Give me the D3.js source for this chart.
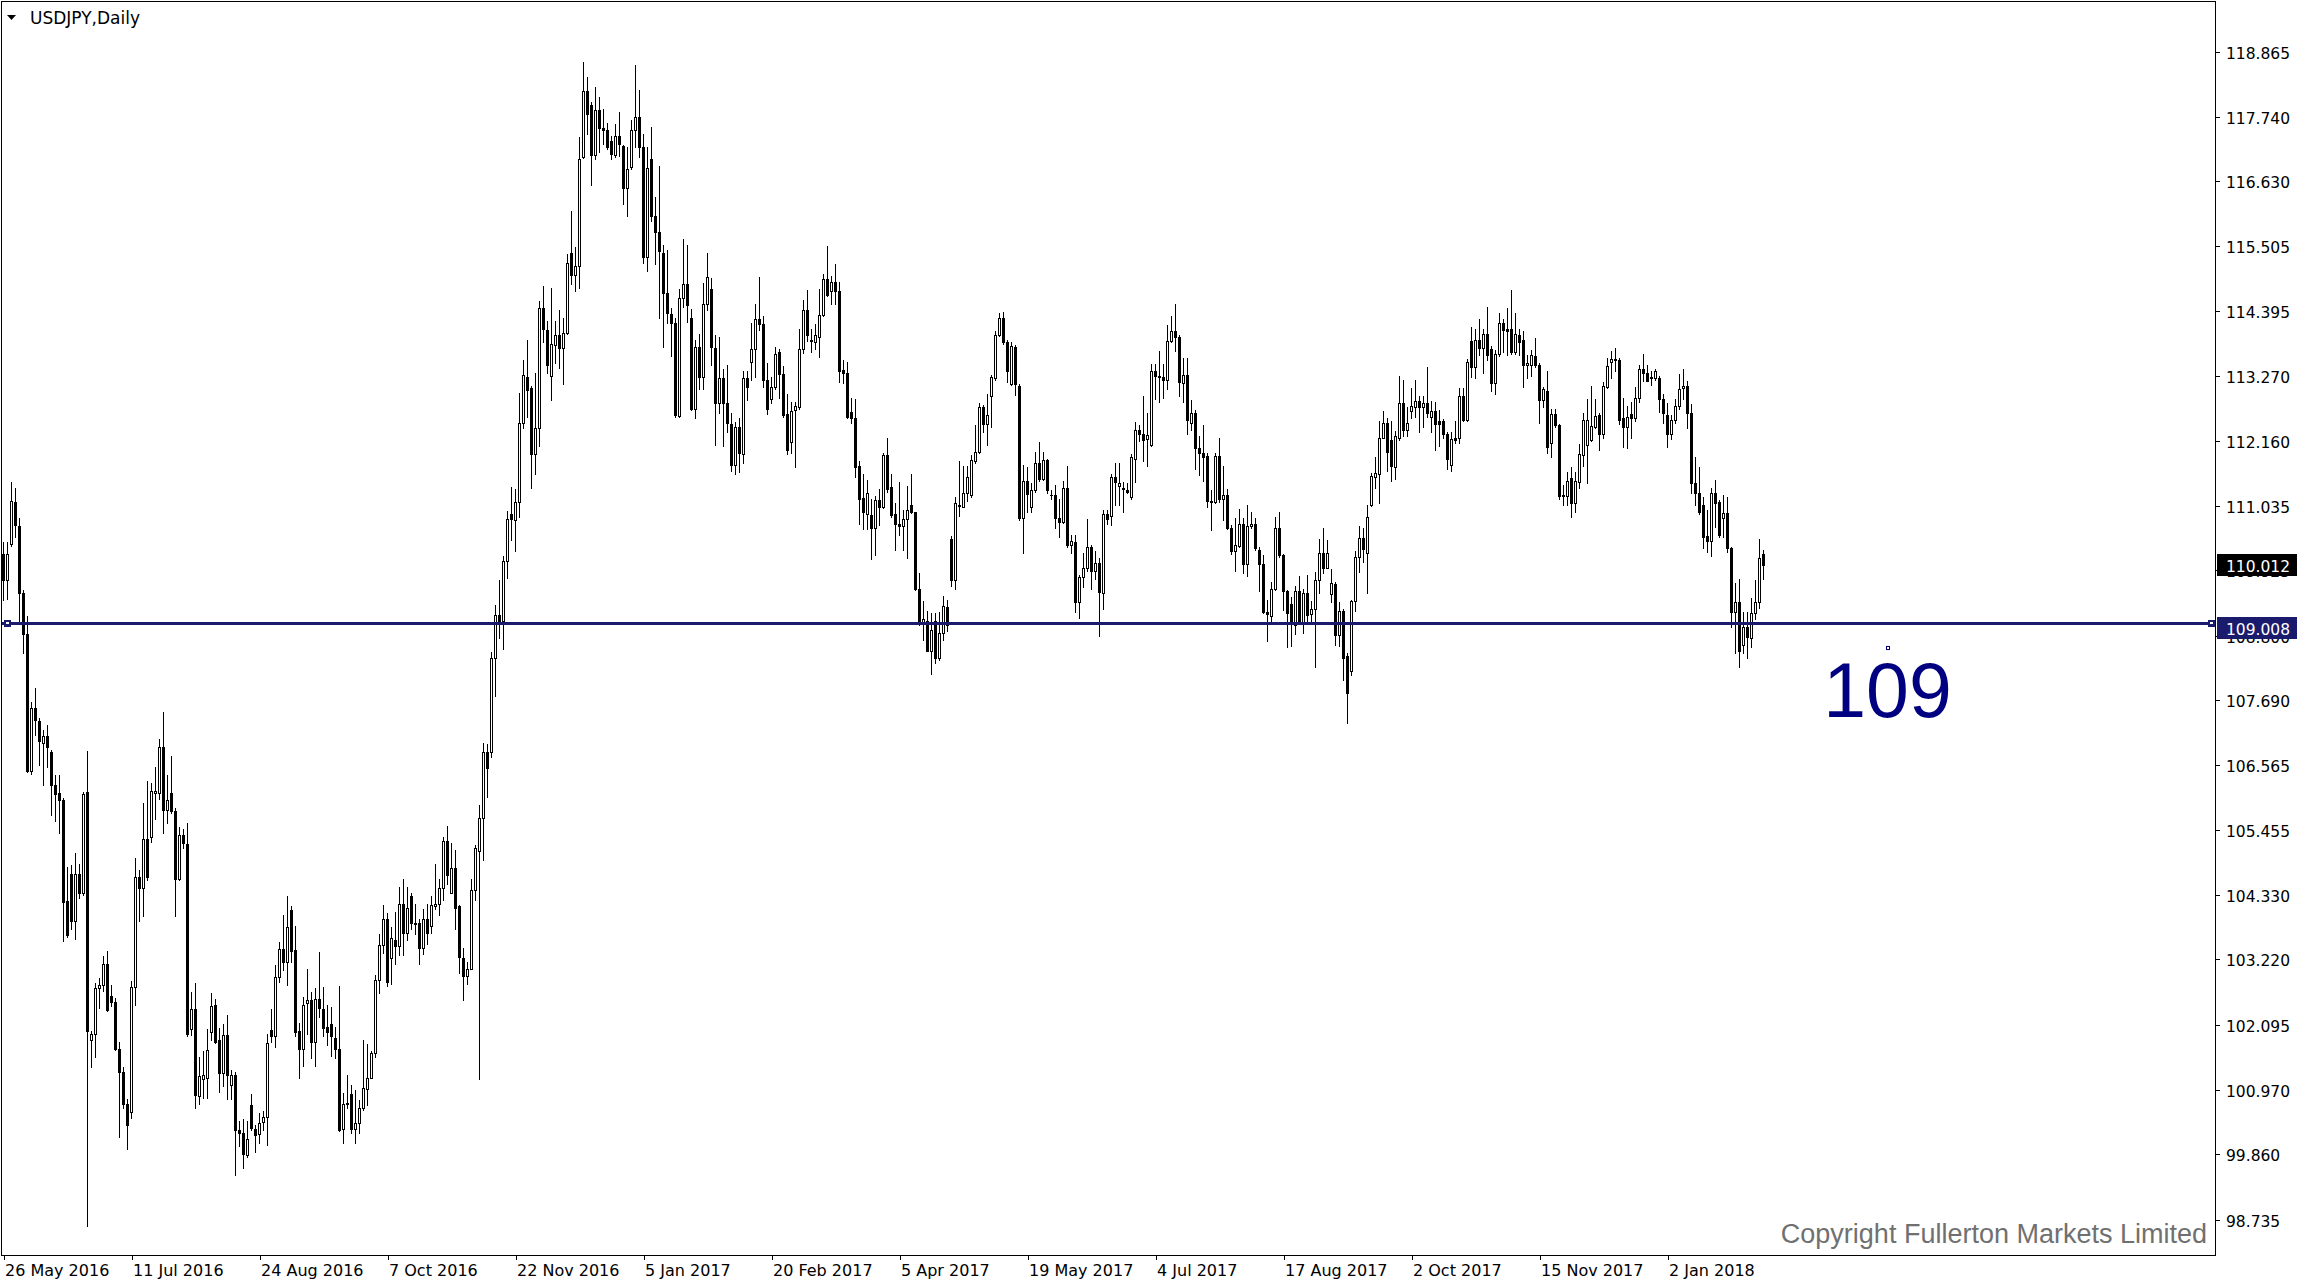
<!DOCTYPE html>
<html><head><meta charset="utf-8">
<script src="https://cdn.jsdelivr.net/npm/d3@7"></script>
<style>html,body{margin:0;padding:0;background:#fff;overflow:hidden}</style>
</head><body>
<svg id="chart" width="2301" height="1288"></svg>
<script>
const symbolTitle = "USDJPY,Daily";

// Daily USDJPY bars, 26 May 2016 onward (one value per bar)
const opens = [
110.21,109.75,110.38,111.10,110.68,109.54,108.83,106.47,107.55,107.32,
106.95,107.06,106.80,106.22,106.09,105.96,104.23,104.69,103.88,104.69,
104.36,106.11,101.83,101.94,102.72,102.78,103.13,102.58,102.49,101.68,
101.27,100.72,100.58,102.75,104.64,104.44,105.30,105.32,106.08,106.08,
106.87,105.79,106.09,105.77,104.61,105.37,105.20,102.02,102.36,100.86,
101.15,101.17,101.96,102.43,101.83,101.26,101.92,101.05,101.22,100.27,
100.22,99.84,100.71,100.29,100.20,100.42,100.50,102.00,101.89,102.92,
103.39,103.18,104.07,103.38,101.98,101.68,102.46,102.52,101.80,102.53,
102.37,102.05,102.10,101.87,101.67,100.29,100.74,100.89,100.29,100.39,
100.65,100.98,101.18,101.60,102.86,103.47,103.91,103.24,103.56,103.45,
104.18,103.68,104.31,103.85,103.84,103.41,103.91,103.80,104.14,104.18,
104.44,105.26,104.37,104.79,104.14,103.25,102.94,103.06,104.42,105.09,
105.65,106.79,106.80,108.41,109.16,109.05,110.09,110.90,110.79,111.10,
112.46,113.26,113.06,111.93,112.37,114.45,114.07,113.27,113.81,113.98,
113.75,114.01,115.39,115.02,115.17,117.04,118.18,117.94,117.08,117.85,
117.54,117.51,117.33,117.08,117.41,117.24,116.52,116.87,117.51,117.74,
117.22,115.33,117.01,116.03,115.75,115.40,114.71,114.34,114.18,112.58,
114.61,114.85,114.28,112.70,113.77,113.26,114.52,114.77,113.75,112.80,
113.23,112.80,112.45,111.74,112.39,111.93,113.23,113.52,113.73,114.25,
114.16,113.21,112.87,113.08,113.68,113.31,112.62,112.13,112.69,112.74,
113.73,114.41,113.89,113.86,113.95,114.32,114.94,114.73,114.90,114.74,
113.37,113.32,112.66,112.54,111.72,111.17,110.90,110.88,110.65,111.13,
111.02,111.91,111.36,110.89,110.73,110.69,110.80,111.05,110.92,109.60,
109.00,109.05,108.54,109.05,108.41,108.85,109.29,110.46,109.76,111.03,
111.02,111.25,111.22,111.81,111.97,112.73,112.45,112.93,113.23,113.98,
114.27,113.85,113.13,113.77,113.10,110.82,111.47,111.02,111.30,111.77,
111.49,111.82,111.23,111.22,110.82,110.76,111.34,110.36,110.42,109.38,
109.80,109.97,110.32,109.92,110.05,109.53,110.90,110.86,111.53,111.37,
111.35,111.31,111.18,111.84,112.34,112.28,112.18,112.08,113.36,113.26,
113.26,113.21,113.88,114.05,113.95,113.16,113.29,112.46,112.63,112.04,
111.95,111.89,111.11,111.10,111.89,111.16,111.23,110.65,110.25,110.35,
110.72,110.03,110.69,110.73,110.28,110.04,109.20,109.14,109.60,110.66,
110.18,109.56,109.35,108.98,109.56,109.02,109.54,109.17,109.25,109.76,
110.23,109.97,109.52,109.68,108.81,109.23,108.44,108.18,109.39,110.15,
110.48,110.23,111.05,111.54,111.58,112.21,112.47,112.17,111.71,112.21,
112.81,112.34,112.67,112.74,112.85,112.74,112.81,112.57,112.67,112.49,
112.50,112.27,111.74,112.20,112.20,112.93,112.51,113.88,113.43,113.89,
113.75,113.99,113.73,113.16,113.65,114.18,114.08,114.09,113.69,113.98,
113.89,113.46,113.46,113.62,113.46,112.86,113.02,112.11,112.62,112.43,
111.22,111.20,111.51,111.08,111.45,111.91,112.08,112.17,112.40,112.60,
112.28,113.08,113.52,113.56,113.55,112.54,112.39,112.62,112.54,112.89,
113.39,113.33,113.25,113.23,113.23,112.87,112.60,112.28,112.51,112.75,
113.06,113.10,112.64,111.43,111.25,111.05,110.51,110.43,111.26,111.10,
110.82,110.91,110.30,109.21,109.38,108.64,108.95,108.75,109.18,109.38,
110.20];

const highs = [
110.42,110.42,111.44,111.34,110.83,109.58,109.13,107.65,107.89,107.38,
107.17,107.25,106.83,106.40,106.39,106.00,104.81,104.84,105.05,104.86,
106.11,106.81,101.98,102.81,102.89,103.27,103.37,102.78,102.55,101.79,
101.37,100.82,102.85,104.96,104.75,105.92,106.30,106.26,106.53,107.01,
107.48,106.39,106.72,105.83,105.50,105.47,105.57,102.66,102.81,101.54,
101.64,102.02,102.64,102.53,102.04,102.10,102.26,101.31,101.28,100.43,
100.46,100.43,100.90,100.36,100.57,100.61,101.94,102.37,103.12,103.52,
103.98,104.31,104.13,103.79,102.12,102.57,103.05,102.65,102.72,103.34,
102.74,102.44,102.39,102.05,102.76,100.91,101.22,101.05,100.97,100.79,
101.83,101.76,101.64,102.95,103.66,104.15,104.01,103.77,104.04,104.46,
104.61,104.46,104.36,104.18,103.92,104.08,104.18,104.31,104.86,104.60,
105.33,105.52,105.22,105.10,104.15,103.42,103.18,104.61,105.19,105.88,
106.94,106.93,108.52,109.33,109.75,110.17,110.95,111.36,111.33,112.98,
113.55,113.90,113.10,113.33,114.56,114.83,114.22,114.79,114.22,114.41,
114.27,115.37,116.12,115.49,117.39,118.68,118.43,117.99,118.26,118.08,
117.87,117.64,117.41,117.62,117.83,117.25,117.22,117.68,118.64,118.20,
117.45,117.22,117.56,116.35,116.90,115.53,115.45,114.44,114.28,114.77,
115.63,115.53,114.42,113.90,113.99,114.87,115.39,114.96,113.98,113.95,
113.39,113.46,112.63,112.48,112.54,113.36,113.36,114.18,114.51,114.98,
114.31,113.50,113.26,113.78,113.73,113.44,112.96,112.83,112.83,114.08,
114.59,114.75,114.08,114.17,114.78,115.03,115.51,115.00,115.21,114.90,
113.54,113.52,112.89,112.87,111.80,111.59,111.48,111.15,111.20,111.32,
111.95,112.20,111.59,111.08,111.45,110.96,111.38,111.58,110.93,109.87,
109.40,109.23,109.19,109.19,109.21,109.48,109.42,110.51,111.19,111.80,
111.72,111.72,111.91,112.43,112.80,112.77,112.97,113.29,114.04,114.35,
114.38,113.89,113.85,113.81,113.13,111.74,111.70,111.43,111.97,112.14,
111.97,111.85,111.31,111.39,111.15,111.47,111.72,110.53,110.53,109.84,
110.23,110.80,110.36,110.26,110.13,110.97,110.97,111.59,111.78,111.77,
111.45,111.42,111.93,112.48,112.43,112.93,112.63,113.48,113.48,113.71,
113.48,114.15,114.31,114.51,113.98,113.58,113.58,112.86,112.69,112.23,
112.43,111.95,111.31,111.95,112.20,111.72,111.33,110.70,110.83,110.98,
110.82,111.05,110.92,110.82,110.32,110.18,109.41,109.73,110.84,110.93,
110.20,109.58,109.47,109.65,109.83,109.61,109.84,109.40,109.90,110.46,
110.66,110.45,109.94,109.73,109.38,109.25,108.49,109.41,110.26,110.68,
110.65,111.05,111.60,111.88,112.50,112.67,112.54,112.49,112.33,113.27,
113.21,112.74,113.06,113.20,112.93,112.92,113.43,112.84,112.83,112.69,
112.53,112.30,112.30,112.49,113.06,113.06,113.56,114.12,114.08,114.25,
114.09,114.47,113.79,113.72,114.35,114.25,114.44,114.75,114.35,114.08,
114.04,113.63,113.72,113.92,113.49,113.09,113.35,112.70,112.70,112.45,
111.39,111.62,111.71,111.62,112.10,112.64,112.87,113.10,112.87,112.63,
113.17,113.59,113.71,113.75,113.58,112.89,112.76,112.83,113.08,113.47,
113.65,113.46,113.35,113.39,113.27,112.97,112.80,112.60,112.87,113.31,
113.39,113.19,112.79,111.87,111.71,111.19,110.97,111.35,111.48,111.13,
111.22,111.19,110.33,109.71,109.77,109.21,109.21,109.44,109.76,110.47,
110.28];

const lows = [
109.41,109.43,110.34,110.49,109.03,108.50,106.44,106.42,107.08,106.56,
106.23,106.53,105.71,105.60,105.40,103.53,103.60,103.74,103.57,104.27,
104.33,98.63,101.37,101.54,102.38,102.68,102.32,102.41,101.66,100.16,
100.65,99.95,100.49,102.43,103.88,103.97,104.58,105.24,105.64,105.99,
105.40,105.57,105.74,103.97,104.58,105.13,101.90,101.92,100.65,100.72,
100.83,100.83,101.83,101.77,100.94,101.03,100.82,100.82,99.50,100.01,
99.63,99.82,100.27,99.90,100.06,100.27,100.02,101.80,101.71,102.83,
103.03,102.78,103.18,101.90,101.17,101.38,101.94,101.52,101.38,102.22,
101.90,101.75,101.55,101.51,100.26,100.06,100.65,100.22,100.06,100.23,
100.62,100.71,101.17,101.54,102.64,103.32,102.76,102.79,103.14,103.30,
103.29,103.56,103.75,103.66,103.14,103.31,103.48,103.68,104.08,103.98,
104.25,104.52,104.36,103.75,102.99,102.52,102.79,103.05,104.25,101.15,
104.93,106.01,106.71,107.75,108.75,108.56,109.79,110.44,110.25,110.84,
112.37,112.56,111.35,111.59,112.06,113.85,113.33,112.86,113.49,113.41,
113.14,114.00,114.85,114.73,114.79,117.03,117.45,116.56,117.02,117.14,
117.27,117.18,117.02,117.04,117.07,116.23,116.03,116.84,117.22,117.04,
115.22,115.08,115.95,115.20,114.27,113.77,114.18,113.62,112.57,112.56,
114.46,114.21,112.69,112.55,113.04,113.04,114.41,113.46,112.08,112.64,
112.07,112.31,111.64,111.59,111.62,111.77,112.86,113.20,113.26,114.06,
113.08,112.62,112.80,113.04,112.89,112.56,111.93,111.95,111.70,112.71,
113.67,113.88,113.69,113.73,113.60,114.31,114.65,114.51,114.52,113.17,
113.15,112.54,112.46,111.54,110.73,110.63,110.63,110.11,110.19,110.70,
110.99,111.28,110.85,110.27,110.53,110.28,110.13,110.91,109.58,108.98,
108.72,108.53,108.13,108.32,108.37,108.72,108.87,109.65,109.60,110.86,
111.01,111.12,111.19,111.78,111.95,112.31,112.08,112.40,113.20,113.96,
113.83,113.17,113.12,112.95,110.79,110.23,110.92,110.92,111.28,111.47,
111.48,111.25,111.15,110.66,110.49,110.74,110.33,110.23,109.21,109.11,
109.63,109.92,109.61,109.77,108.79,109.25,110.72,110.70,111.05,111.05,
110.93,111.25,111.16,111.45,112.16,111.81,111.72,112.07,112.87,112.83,
112.89,113.04,113.86,113.71,112.92,112.83,112.27,112.34,111.67,111.56,
111.47,111.01,110.61,111.09,111.10,110.79,110.63,110.20,109.92,110.32,
109.87,109.83,110.65,110.27,109.56,109.18,108.71,109.03,109.58,110.15,
109.24,108.60,108.62,108.83,109.00,108.84,109.00,109.04,108.25,109.54,
109.87,109.96,109.37,108.64,108.62,108.04,107.30,108.12,109.23,109.90,
110.07,109.54,111.03,111.34,111.09,112.20,111.64,111.47,111.49,112.17,
112.23,112.23,112.54,112.57,112.31,112.40,112.57,112.31,111.99,112.07,
112.20,111.67,111.64,112.11,112.12,112.50,112.50,113.26,113.23,113.63,
113.33,113.55,113.02,112.96,113.62,113.69,113.63,113.66,113.66,113.63,
113.09,113.23,113.27,113.42,112.47,112.73,111.94,111.88,112.40,111.15,
111.05,111.05,110.84,110.92,111.34,111.72,111.43,112.16,112.37,111.99,
112.21,113.06,113.24,113.36,112.44,112.05,112.03,112.20,112.50,112.83,
113.19,113.18,113.12,113.20,112.66,112.47,112.05,112.18,112.46,112.71,
112.87,112.37,111.26,111.05,110.89,110.30,110.24,110.17,110.67,110.49,
110.49,110.24,108.95,108.49,108.26,108.49,108.41,108.60,109.08,109.27,
109.78];

const closes = [
109.75,110.20,111.12,110.70,109.54,108.83,106.47,107.55,107.35,106.98,
107.06,106.87,106.22,106.07,105.96,104.20,103.63,103.88,104.69,104.36,
106.07,101.98,101.94,102.72,102.78,103.14,102.34,102.49,101.68,101.27,
100.72,100.37,102.75,104.64,104.44,105.30,104.64,106.12,106.12,106.87,
105.79,105.96,105.77,104.61,105.37,105.22,101.93,102.36,100.88,101.20,
101.22,101.66,102.41,101.80,101.26,101.92,101.22,101.22,100.27,100.22,
99.86,100.12,100.31,100.19,100.40,100.50,101.77,101.89,102.91,103.39,
103.18,103.77,103.37,101.97,101.68,102.44,102.52,101.80,102.53,102.38,
102.03,101.96,101.89,101.67,100.27,100.72,100.72,100.29,100.39,100.65,
101.00,101.18,101.60,102.86,103.47,103.91,102.83,103.58,103.45,104.17,
103.67,104.10,103.85,103.83,103.41,103.91,103.68,104.15,104.18,104.44,
105.26,104.67,104.80,104.11,103.26,102.94,103.06,104.42,105.13,105.65,
106.79,106.51,108.41,109.16,109.05,110.09,110.81,110.81,111.10,112.46,
113.29,113.03,111.93,112.37,114.45,114.08,113.46,113.83,113.98,113.75,
114.01,115.22,115.02,115.17,117.02,118.18,117.79,117.08,117.85,117.54,
117.52,117.22,117.10,117.41,117.27,116.52,116.84,117.51,117.74,117.22,
115.33,116.85,116.03,115.75,115.43,114.71,114.35,114.18,112.60,114.61,
114.85,114.50,112.70,113.77,113.26,114.52,114.98,113.77,112.80,113.23,
112.80,112.46,111.74,112.39,111.94,113.23,113.09,113.73,114.25,114.16,
113.21,112.71,113.08,113.66,113.31,112.60,111.99,112.67,112.75,113.73,
114.41,113.98,113.88,113.98,114.32,114.94,114.67,114.90,114.73,113.36,
113.32,112.57,112.54,111.71,111.16,110.92,111.25,110.66,111.13,111.02,
111.91,111.32,110.88,110.72,110.69,110.80,110.96,110.93,109.60,109.01,
109.08,108.54,108.89,108.41,108.85,109.30,108.98,109.76,111.08,111.05,
111.25,111.53,111.82,111.97,112.73,112.45,112.60,113.26,113.98,114.27,
113.85,113.36,113.79,113.13,110.82,111.47,111.24,111.30,111.77,111.49,
111.82,111.30,111.22,110.82,110.76,111.35,110.36,110.43,109.38,109.80,
109.97,110.32,109.92,110.05,109.55,110.90,110.80,111.53,111.45,111.43,
111.32,111.27,111.87,112.35,112.28,112.17,112.26,113.36,113.27,113.27,
113.21,113.88,114.04,113.95,113.17,113.29,112.51,112.63,112.04,111.95,
111.88,111.11,111.10,111.89,111.15,111.23,110.66,110.25,110.36,110.72,
110.03,110.68,110.73,110.30,110.04,109.20,109.17,109.60,110.66,110.18,
109.56,109.19,109.00,109.56,109.01,109.54,109.15,109.25,109.76,110.23,
109.97,110.22,109.70,108.81,109.23,108.42,107.81,109.39,110.15,110.48,
110.29,110.85,111.55,111.60,112.21,112.47,111.97,111.72,112.23,112.81,
112.34,112.46,112.76,112.85,112.74,112.81,112.64,112.67,112.44,112.44,
112.27,111.85,112.18,112.17,112.93,112.51,113.51,113.43,113.89,113.75,
113.99,113.63,113.16,113.65,114.18,114.07,114.05,113.69,113.99,113.86,
113.46,113.50,113.63,113.46,112.86,113.04,112.05,112.62,112.43,111.20,
111.20,111.47,111.08,111.47,111.93,112.52,112.52,112.41,112.58,112.28,
113.10,113.44,113.56,113.54,112.52,112.39,112.56,112.54,112.89,113.39,
113.33,113.19,113.23,113.36,112.87,112.64,112.28,112.51,112.75,113.04,
113.10,112.64,111.42,111.25,110.92,110.50,110.43,111.26,111.09,110.53,
110.91,110.30,109.21,109.38,108.54,108.94,108.77,109.18,109.38,110.13,
110.01];

const dateTickBars = [0,32,64,96,128,160,192,224,256,288,320,352,384,416];
const dateTickLabels = ["26 May 2016","11 Jul 2016","24 Aug 2016","7 Oct 2016","22 Nov 2016",
  "5 Jan 2017","20 Feb 2017","5 Apr 2017","19 May 2017","4 Jul 2017","17 Aug 2017",
  "2 Oct 2017","15 Nov 2017","2 Jan 2018"];
const priceTicks = [118.865,117.740,116.630,115.505,114.395,113.270,112.160,111.035,109.925,
  108.800,107.690,106.565,105.455,104.330,103.220,102.095,100.970,99.860,98.735];
const currentPrice = 110.012;
const levelPrice = 109.008;
const levelText = "109";
const levelTextBar = 471;
const levelTextPrice = 108.58;
const copyrightText = "Copyright Fullerton Markets Limited";

// ---------- layout ----------
const W = 2301, H = 1288;
const plotRight = 2215, plotBottom = 1255;
const navy = "#1b1b6e";
const axisFont = "DejaVu Sans, Verdana, sans-serif";

const svg = d3.select("#chart");
svg.append("rect").attr("width", W).attr("height", H).attr("fill", "#fff");

const n = Math.min(opens.length, highs.length, lows.length, closes.length);
const x = d3.scaleLinear().domain([0, 440]).range([3.5, 1763.5]);
const y = d3.scaleLinear().domain([98.735, 118.865]).range([1219.5, 51.5]);

// candles
const cg = svg.append("g").attr("shape-rendering", "crispEdges");
const idx = d3.range(n);
cg.selectAll("rect.wick").data(idx).join("rect").attr("class", "wick")
  .attr("x", i => Math.floor(x(i)))
  .attr("y", i => Math.round(y(highs[i])))
  .attr("width", 1)
  .attr("height", i => Math.max(1, Math.round(y(lows[i])) - Math.round(y(highs[i])) + 1))
  .attr("fill", "#000");

const bears = idx.filter(i => closes[i] < opens[i]);
const bulls = idx.filter(i => closes[i] >= opens[i]);
cg.selectAll("rect.bear").data(bears).join("rect").attr("class", "bear")
  .attr("x", i => Math.floor(x(i)) - 1)
  .attr("y", i => Math.round(y(opens[i])))
  .attr("width", 3)
  .attr("height", i => Math.max(1, Math.round(y(closes[i])) - Math.round(y(opens[i])) + 1))
  .attr("fill", "#000");
cg.selectAll("rect.bull").data(bulls).join("rect").attr("class", "bull")
  .attr("x", i => Math.floor(x(i)) - 0.5)
  .attr("y", i => Math.round(y(closes[i])) + 0.5)
  .attr("width", 2)
  .attr("height", i => Math.max(1, Math.round(y(opens[i])) - Math.round(y(closes[i]))))
  .attr("fill", "#fff").attr("stroke", "#000").attr("stroke-width", 1);

// horizontal level line
const ly = Math.round(y(levelPrice)) + 0.5;
svg.append("line").attr("x1", 2).attr("x2", plotRight).attr("y1", ly).attr("y2", ly)
  .attr("stroke", navy).attr("stroke-width", 3).attr("shape-rendering", "crispEdges");
[4, 2208].forEach(sx => {
  svg.append("rect").attr("x", sx).attr("y", ly - 3.5).attr("width", 7).attr("height", 7)
    .attr("fill", navy).attr("shape-rendering", "crispEdges");
  svg.append("rect").attr("x", sx + 2).attr("y", ly - 1.5).attr("width", 3).attr("height", 2)
    .attr("fill", "#fff").attr("shape-rendering", "crispEdges");
});

// level annotation text
const ax = x(levelTextBar), ay = y(levelTextPrice);
svg.append("rect").attr("x", Math.round(ax) - 1.5).attr("y", Math.round(ay) - 1.5)
  .attr("width", 3).attr("height", 3).attr("fill", "#fff").attr("stroke", "#000080")
  .attr("shape-rendering", "crispEdges");
svg.append("text").attr("x", ax).attr("y", ay + 68.5).attr("text-anchor", "middle")
  .attr("font-family", "Liberation Sans, Arial, sans-serif").attr("font-size", 77)
  .attr("fill", "#000080").text(levelText);

// copyright
svg.append("text").attr("x", 2207).attr("y", 1243).attr("text-anchor", "end")
  .attr("font-family", "Liberation Sans, Arial, sans-serif").attr("font-size", 27)
  .attr("fill", "#707070").text(copyrightText);

// frame
svg.append("rect").attr("x", 1.5).attr("y", 1.5).attr("width", plotRight - 1.5 + 0.5 - 0.5)
  .attr("height", plotBottom - 1.5 + 0.5 - 0.5).attr("fill", "none").attr("stroke", "#000")
  .attr("shape-rendering", "crispEdges");

// price axis
const yAxis = d3.axisRight(y).tickValues(priceTicks).tickSize(5).tickPadding(6)
  .tickFormat(d3.format(".3f"));
const gy = svg.append("g").attr("transform", `translate(${plotRight},0)`).call(yAxis);
gy.select(".domain").remove();
gy.attr("font-family", axisFont).attr("font-size", 15.5);
gy.selectAll("line").attr("shape-rendering", "crispEdges");
gy.selectAll("text").attr("fill", "#000").attr("dy", "0.42em");

// date axis
const xAxis = d3.axisBottom(x).tickValues(dateTickBars).tickSize(5).tickPadding(5)
  .tickFormat((d, i) => dateTickLabels[i]);
const gx = svg.append("g").attr("transform", `translate(0,${plotBottom})`).call(xAxis);
gx.select(".domain").remove();
gx.attr("font-family", axisFont).attr("font-size", 16);
gx.selectAll("line").attr("shape-rendering", "crispEdges");
gx.selectAll("text").attr("fill", "#000").attr("text-anchor", "start").attr("x", 1);

// price boxes
function priceBox(price, top, fill) {
  svg.append("rect").attr("x", 2217).attr("y", top).attr("width", 80).attr("height", 22)
    .attr("fill", fill).attr("shape-rendering", "crispEdges");
  svg.append("text").attr("x", 2226).attr("y", top + 11).attr("dy", "0.42em")
    .attr("font-family", axisFont).attr("font-size", 15.5).attr("fill", "#fff")
    .text(d3.format(".3f")(price));
}
priceBox(currentPrice, Math.round(y(currentPrice)) - 11, "#000");
priceBox(levelPrice, Math.round(y(levelPrice)) - 6, navy);

// title
svg.append("path").attr("d", "M7,15 L16,15 L11.5,20 Z").attr("fill", "#000");
svg.append("text").attr("x", 30).attr("y", 24).attr("font-family", axisFont)
  .attr("font-size", 17).attr("fill", "#000").text(symbolTitle);
</script>
</body></html>
